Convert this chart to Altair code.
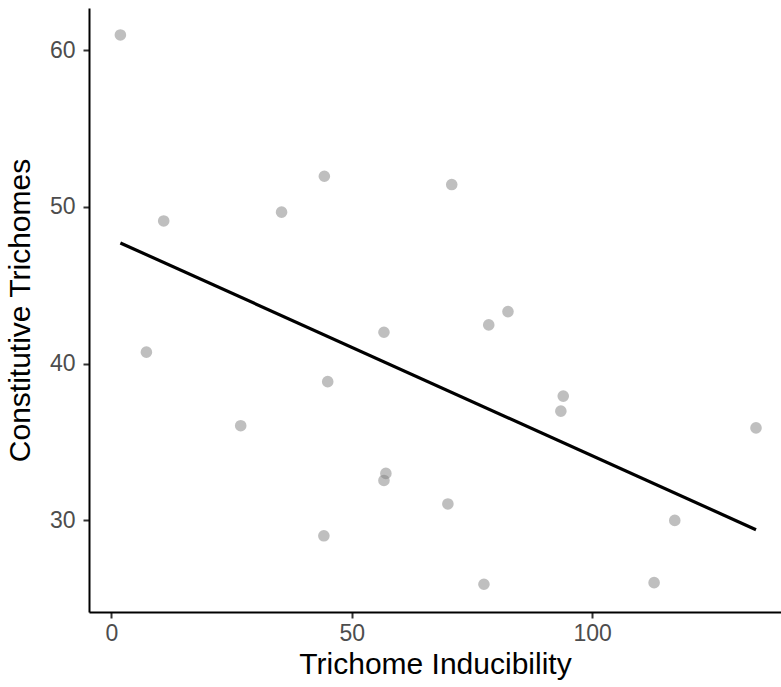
import altair as alt
import pandas as pd

# Data
inducibility = [1.87, 10.88, 7.28, 26.9, 35.4, 44.3, 45.0, 44.2, 56.7, 57.1, 56.7,
                70.8, 70.0, 78.5, 82.5, 77.5, 94.0, 93.5, 112.9, 117.2, 134.1]
constitutive = [60.96, 49.10, 40.73, 36.04, 49.66, 51.95, 38.85, 29.02, 42.0, 33.0, 32.55,
                51.42, 31.05, 42.47, 43.32, 25.93, 37.93, 36.97, 26.03, 30.0, 35.9]
x_ticks = [0, 50, 100]
y_ticks = [30, 40, 50, 60]

df = pd.DataFrame({"x": inducibility, "y": constitutive})

FONT = "Liberation Sans"

xscale = alt.Scale(domain=[-4.66, 139.3], nice=False, zero=False)
yscale = alt.Scale(domain=[24.16, 62.68], nice=False, zero=False)

xaxis = alt.Axis(values=x_ticks, title="Trichome Inducibility", grid=False,
                 domainColor="black", domainWidth=2, tickColor="#333333", tickWidth=2,
                 tickSize=6, labelColor="#4D4D4D", labelFontSize=23, labelFont=FONT,
                 labelPadding=4, titleFont=FONT, titleFontSize=30, titleFontWeight="normal",
                 titleColor="black", titlePadding=4, labelFlush=False)
yaxis = alt.Axis(values=y_ticks, title="Constitutive Trichomes", grid=False,
                 domainColor="black", domainWidth=2, tickColor="#333333", tickWidth=2,
                 tickSize=6, labelColor="#4D4D4D", labelFontSize=23, labelFont=FONT,
                 labelPadding=8, titleFont=FONT, titleFontSize=30, titleFontWeight="normal",
                 titleColor="black", titlePadding=14, labelFlush=False)

base = alt.Chart(df)

points = base.mark_circle(size=135, color="#7F7F7F", opacity=0.5).encode(
    x=alt.X("x:Q", scale=xscale, axis=xaxis),
    y=alt.Y("y:Q", scale=yscale, axis=yaxis),
)

line = base.transform_regression("x", "y", method="linear").mark_line(
    color="black", strokeWidth=3.2
).encode(
    x=alt.X("x:Q", scale=xscale),
    y=alt.Y("y:Q", scale=yscale),
)

chart = (points + line).properties(
    width=692, height=604,
    padding={"left": 89, "top": 8, "right": 0, "bottom": 75},
    autosize=alt.AutoSizeParams(type="none"),
    background="white",
).configure_view(stroke=None)

chart.save("out.html", embed_options={"renderer": "svg", "actions": False})
